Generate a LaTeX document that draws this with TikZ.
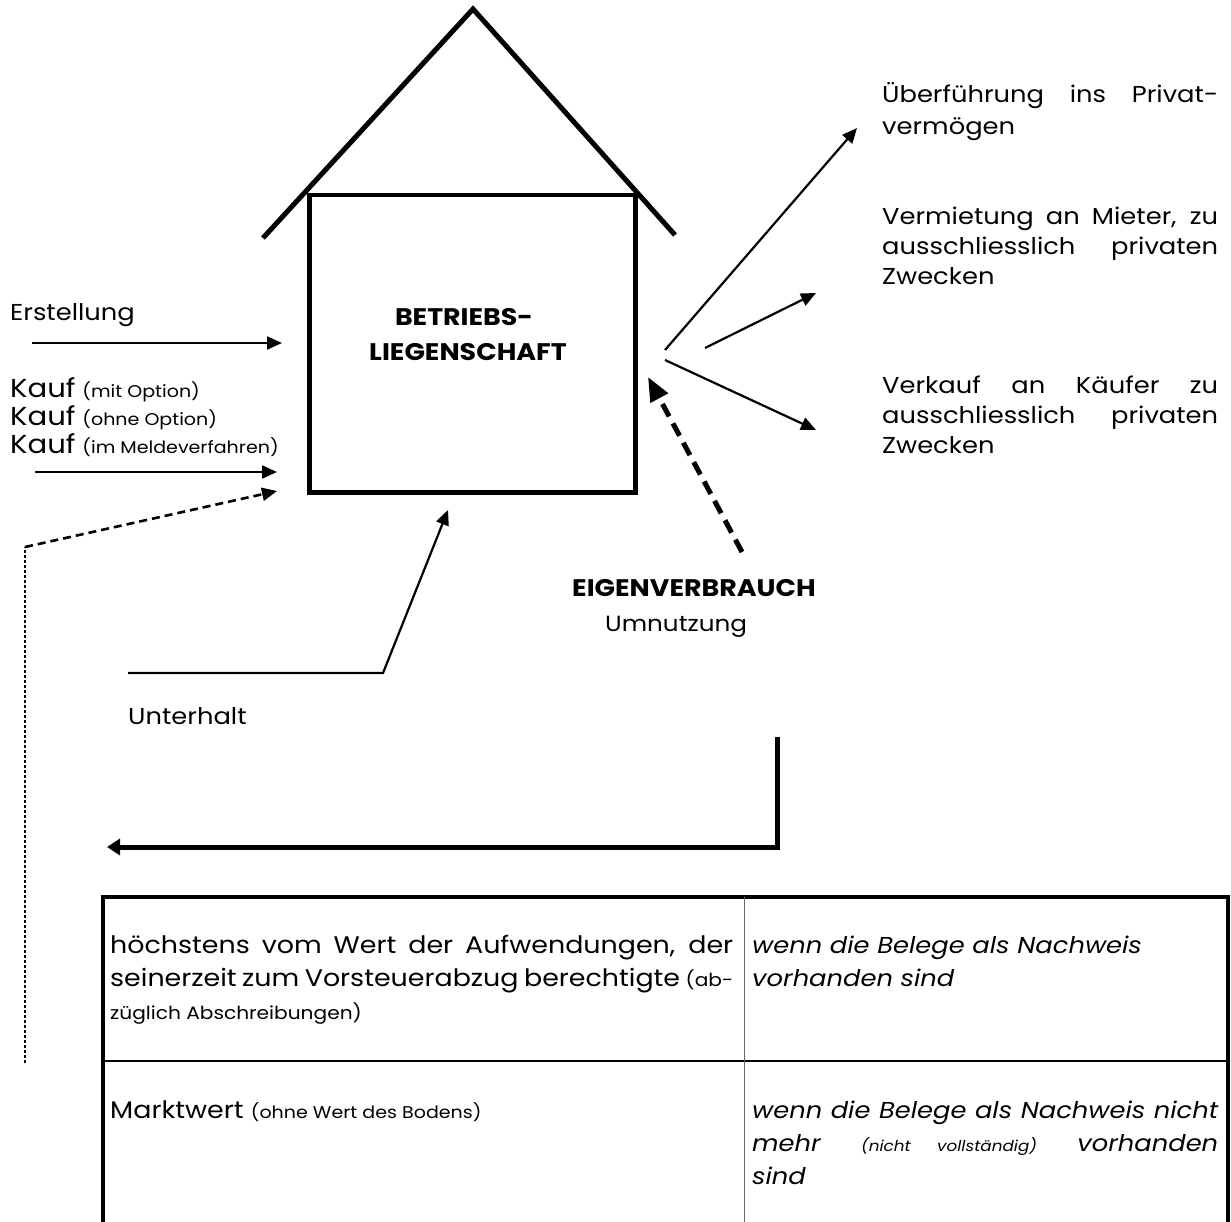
\documentclass[tikz,border=0pt]{standalone}
\usepackage{fontspec}
\setmainfont{Poppins}[FakeStretch=1.12]
\usetikzlibrary{arrows.meta}
\newcommand\smtxt[1]{{\fontsize{17}{20}\selectfont #1}}
\newcommand\smbtxt[1]{{\fontsize{18}{20}\selectfont #1}}
\newcommand\kaufsm[1]{{\fontsize{17}{20}\selectfont #1}}
\newcommand\kaufw{{\fontsize{26}{28}\selectfont Kauf}}
\newcommand\tinytxt[1]{{\fontsize{15}{16}\selectfont #1}}
\begin{document}
\begin{tikzpicture}[x=1pt,y=-1pt,line join=miter,
  txt/.style={anchor=base west,inner sep=0pt,font=\fontsize{23}{28}\selectfont},
  tbltxt/.style={anchor=base west,inner sep=0pt,font=\fontsize{24}{28}\selectfont},
  btxt/.style={anchor=base,inner sep=0pt,font=\bfseries\fontsize{24}{28}\selectfont},
  thinarrow/.style={line width=2.2pt,-{Triangle[length=15pt,width=13pt]}},
  thickline/.style={line width=5pt},
  dasharrow/.style={line width=2.6pt,dash pattern=on 8pt off 5pt,-{Triangle[length=15pt,width=13pt]}},
  dotline/.style={line width=1.2pt,dash pattern=on 3pt off 2pt},
  bigdash/.style={line width=5pt,dash pattern=on 14pt off 8pt,-{Triangle[length=24pt,width=19pt]}},
  bigarrow/.style={line width=5pt,-{Triangle[length=13pt,width=16pt]}}]
\useasboundingbox (0,0) rectangle (1231,1222);
% house
\coordinate (apex) at (473,9);
\coordinate (roofL) at (263,238);
\coordinate (roofR) at (675,235);
\draw[thickline] (roofL) -- (apex) -- (roofR);
\node[draw,line width=4.5pt,minimum width=326pt,minimum height=297pt,anchor=north west,inner sep=0pt] (box) at (307,193) {};
\node[btxt] (bt1) at (464,326) {BETRIEBS-};
\node[btxt] (bt2) at (468,360) {LIEGENSCHAFT};
% left inputs
\node[txt] (erst) at (10,321) {Erstellung};
\coordinate (e1) at (32,343);
\coordinate (e2) at (282,343);
\draw[thinarrow] (e1) -- (e2);
\node[txt] (kauf1) at (10,397) {\kaufw{} \kaufsm{(mit Option)}};
\node[txt] (kauf2) at (10,425) {\kaufw{} \kaufsm{(ohne Option)}};
\node[txt] (kauf3) at (10,453) {\kaufw{} \kaufsm{(im Meldeverfahren)}};
\coordinate (k1) at (35,472);
\coordinate (k2) at (277,472);
\draw[thinarrow] (k1) -- (k2);
\coordinate (d0) at (25,1063);
\coordinate (d1) at (25,547);
\coordinate (d2) at (277,491);
\draw[dotline] (d0) -- (d1);
\draw[dasharrow] (d1) -- (d2);
% Unterhalt
\coordinate (u0) at (128,673);
\coordinate (u1) at (383,673);
\coordinate (u2) at (448,510);
\draw[thinarrow] (u0) -- (u1) -- (u2);
\node[txt] (unter) at (128,724) {Unterhalt};
% right outputs
\coordinate (j1) at (665,350);
\coordinate (t1) at (857,128);
\coordinate (j2) at (705,348);
\coordinate (t2) at (816,293);
\coordinate (j3) at (665,360);
\coordinate (t3) at (816,430);
\draw[thinarrow] (j1) -- (t1);
\draw[thinarrow] (j2) -- (t2);
\draw[thinarrow] (j3) -- (t3);
\node[txt] (r1a) at (882,103) {\makebox[336pt][s]{Überführung ins Privat-}};
\node[txt] (r1b) at (882,135) {vermögen};
\node[txt] (r2a) at (882,225) {\makebox[336pt][s]{Vermietung an Mieter, zu}};
\node[txt] (r2b) at (882,255) {\makebox[336pt][s]{ausschliesslich privaten}};
\node[txt] (r2c) at (882,285) {Zwecken};
\node[txt] (r3a) at (882,393) {\makebox[336pt][s]{Verkauf an Käufer zu}};
\node[txt] (r3b) at (882,423) {\makebox[336pt][s]{ausschliesslich privaten}};
\node[txt] (r3c) at (882,453) {Zwecken};
% Eigenverbrauch
\coordinate (ev0) at (742,552);
\coordinate (ev1) at (648,377);
\draw[bigdash] (ev0) -- (ev1);
\node[btxt] (eigen) at (694,596) {EIGENVERBRAUCH};
\node[txt,font=\fontsize{22}{28}\selectfont] (umn) at (605,631) {Umnutzung};
% L connector
\coordinate (l0) at (777,737);
\coordinate (l1) at (777,847);
\coordinate (l2) at (107,847);
\draw[bigarrow] (l0) -- (l1) -- (l2);
% table
\coordinate (tbl) at (103,1222);
\coordinate (ttl) at (103,897);
\coordinate (ttr) at (1228,897);
\coordinate (tbr) at (1228,1222);
\coordinate (rdl) at (103,1061);
\coordinate (rdr) at (1228,1061);
\coordinate (cdt) at (744,897);
\coordinate (cdb) at (744,1222);
\draw[line width=4.5pt] (tbl) -- (ttl) -- (ttr) -- (tbr);
\draw[line width=1.5pt] (rdl) -- (rdr);
\draw[line width=1pt,black!60] (cdt) -- (cdb);
\node[tbltxt] (c11a) at (110,953) {\makebox[623pt][s]{höchstens vom Wert der Aufwendungen, der}};
\node[tbltxt] (c11b) at (110,986) {\makebox[623pt][s]{seinerzeit zum Vorsteuerabzug berechtigte \smbtxt{(ab-}}};
\node[tbltxt] (c11c) at (110,1019) {\smbtxt{züglich Abschreibungen)}};
\node[txt] (c12a) at (752,953) {\itshape wenn die Belege als Nachweis};
\node[txt] (c12b) at (752,986) {\itshape vorhanden sind};
\node[tbltxt] (c21) at (110,1118) {Marktwert \smtxt{(ohne Wert des Bodens)}};
\node[txt] (c22a) at (752,1118) {\itshape\makebox[466pt][s]{wenn die Belege als Nachweis nicht}};
\node[txt] (c22b) at (752,1151) {\itshape\makebox[466pt][s]{mehr \tinytxt{(nicht vollständig)} vorhanden}};
\node[txt] (c22c) at (752,1184) {\itshape sind};
\end{tikzpicture}
\end{document}
